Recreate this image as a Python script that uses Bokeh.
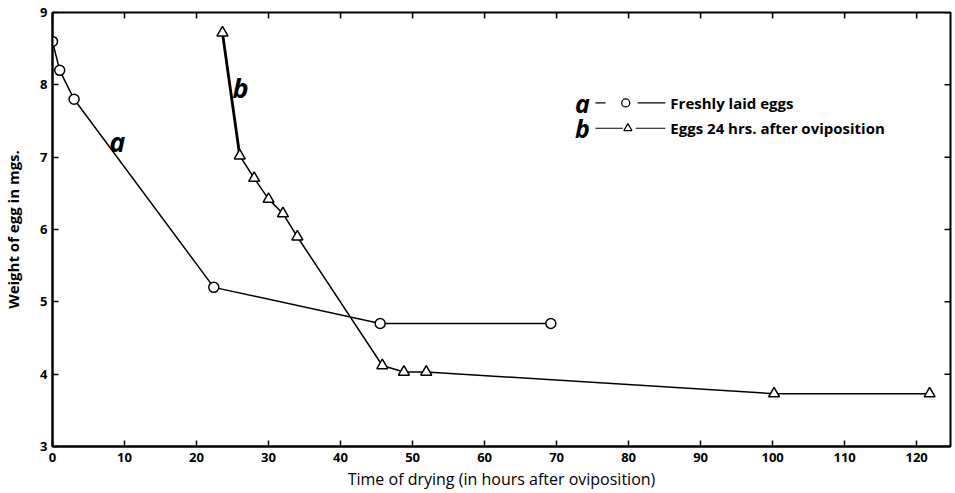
import math
from bokeh.plotting import figure
from bokeh.models import Range1d, FixedTicker
from bokeh.core.properties import value
from bokeh.embed import file_html
from bokeh.resources import INLINE

# ---- data ----
time_a = [0, 1, 3, 22.4, 45.5, 69.2]
weight_a = [8.6, 8.2, 7.8, 5.2, 4.7, 4.7]
time_b = [23.6, 26.0, 28.0, 30.0, 32.0, 34.0, 45.8, 48.8, 51.9, 100.2, 121.8]
weight_b = [8.72, 7.02, 6.71, 6.42, 6.22, 5.9, 4.12, 4.03, 4.03, 3.73, 3.73]
x_ticks = [0, 10, 20, 30, 40, 50, 60, 70, 80, 90, 100, 110, 120]
y_ticks = [3, 4, 5, 6, 7, 8, 9]
curve_names = ["a", "b"]
legend_texts = ["Freshly laid eggs", "Eggs 24 hrs. after oviposition"]
curve_label_x = [9.0, 26.1]
curve_label_y = [7.22, 7.97]

FONT = "Open Sans"
X_END = 124.7
Y_START, Y_END = 3, 9

p = figure(width=953, height=493, x_range=Range1d(0, X_END), y_range=Range1d(Y_START, Y_END),
           output_backend="svg", toolbar_location=None,
           min_border_left=51, min_border_right=3, min_border_top=12, min_border_bottom=47)
p.grid.visible = False
p.outline_line_color = "black"
p.outline_line_width = 2
p.background_fill_color = "white"
p.border_fill_color = "white"

for ax in (p.xaxis[0], p.yaxis[0]):
    ax.major_tick_in = 6
    ax.major_tick_out = 0
    ax.minor_tick_line_color = None
    ax.axis_line_width = 2
    ax.major_tick_line_width = 1.5
    ax.major_label_text_font = FONT
    ax.major_label_text_font_style = "bold"
    ax.major_label_text_font_size = "13px"
    ax.major_label_text_color = "black"
    ax.axis_label_text_color = "black"
    ax.axis_label_text_font = FONT

p.xaxis.ticker = FixedTicker(ticks=x_ticks)
p.yaxis.ticker = FixedTicker(ticks=y_ticks)
p.xaxis.major_label_standoff = 6
p.yaxis.major_label_standoff = 5
p.xaxis.axis_label = "Time of drying (in hours after oviposition)"
p.xaxis.axis_label_text_font_style = "normal"
p.xaxis.axis_label_text_font_size = "16px"
p.xaxis.axis_label_standoff = 3
p.yaxis.axis_label = "Weight of egg in mgs."
p.yaxis.axis_label_text_font_style = "bold"
p.yaxis.axis_label_text_font_size = "15px"
p.yaxis.axis_label_standoff = 14

# inward ticks on the top and right frame edges
p.ray(x=x_ticks, y=[Y_END] * len(x_ticks), length=6, angle=-math.pi / 2,
      length_units="screen", line_color="black", line_width=1.5)
p.ray(x=[X_END] * len(y_ticks), y=y_ticks, length=6, angle=math.pi,
      length_units="screen", line_color="black", line_width=1.5)

# curves
p.line(time_a, weight_a, line_color="black", line_width=1.5)
p.scatter(time_a, weight_a, marker="circle", size=10, fill_color="white",
          line_color="black", line_width=1.5)
p.line(time_b, weight_b, line_color="black", line_width=1.5)
p.line(time_b[:2], weight_b[:2], line_color="black", line_width=2.8)
p.scatter(time_b, weight_b, marker="triangle", size=11, fill_color="white",
          line_color="black", line_width=1.5)

# curve letters
p.text(curve_label_x, curve_label_y, text=curve_names, text_font=value(FONT),
       text_font_style="bold italic", text_font_size="27px", text_color="black",
       text_align="center", text_baseline="middle")

# legend (drawn by hand)
leg_y = [7.75, 7.40]
p.text([73.6, 73.6], leg_y, text=curve_names, text_font=value(FONT),
       text_font_style="bold italic", text_font_size="25px", text_color="black",
       text_align="center", text_baseline="middle")
p.segment([75.4, 81.25], [leg_y[0]] * 2, [76.8, 85.1], [leg_y[0]] * 2,
          line_color="black", line_width=1.2)
p.scatter([79.6], [leg_y[0]], marker="circle", size=8, fill_color="white",
          line_color="black", line_width=1.3)
p.segment([75.4, 81.0], [leg_y[1]] * 2, [79.2, 85.1], [leg_y[1]] * 2,
          line_color="black", line_width=1.2)
p.scatter([79.9], [leg_y[1]], marker="triangle", size=8, fill_color="white",
          line_color="black", line_width=1.3)
p.text([85.8, 85.8], leg_y, text=legend_texts, text_font=value(FONT),
       text_font_style="bold", text_font_size="15px", text_color="black",
       text_align="left", text_baseline="middle")

open("out.html", "w").write(file_html(p, INLINE))
